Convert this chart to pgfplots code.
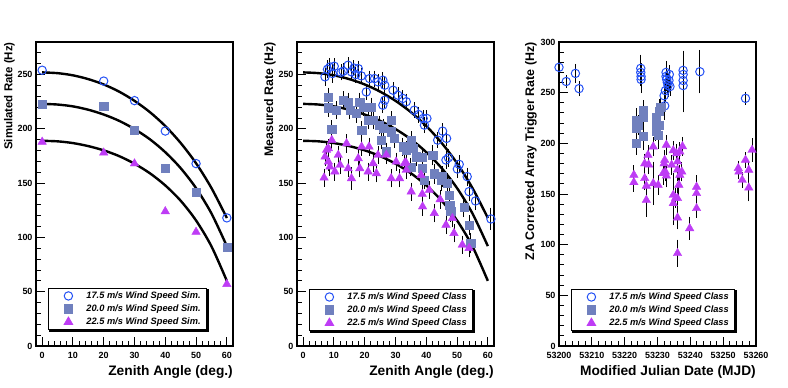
\documentclass[border=0pt]{standalone}
\usepackage{fontspec}
\setmainfont{Liberation Sans}
\usepackage{pgfplots}
\usepackage{pgfplotstable}
\pgfplotsset{compat=1.18}

\definecolor{cblue}{RGB}{35,80,245}
\definecolor{csq}{RGB}{112,128,190}
\definecolor{ctri}{RGB}{190,60,245}

% simulated rates
\pgfplotstableread{
za rate
0 254
20 244
30 226
40 198
50 168
60 118
}\simA
\pgfplotstableread{
za rate
0 223
20 221
30 199
40 164
50 142
60 91
}\simB
\pgfplotstableread{
za rate
0 188
20 178
30 168
40 124
50 105
60 57
}\simC

% fitted curves
\pgfplotstableread{
za rate
0 252
5 251.3
10 249.3
15 245.8
20 240.9
25 234.3
30 225.8
35 215.4
40 202.6
45 187.0
50 168.3
55 145.5
60 117.9
}\fitA
\pgfplotstableread{
za rate
0 223
5 222.4
10 220.7
15 217.6
20 213.2
25 207.4
30 199.8
35 190.4
40 178.5
45 163.8
50 145.4
55 122.1
60 92.0
}\fitB
\pgfplotstableread{
za rate
0 189
5 188.5
10 186.9
15 184.1
20 180.2
25 174.9
30 167.9
35 159.1
40 147.9
45 133.8
50 115.6
55 91.8
60 60.0
}\fitC

% measured rates vs zenith angle
\pgfplotstableread{
za rate err
7.1 247.9 7
7.9 254.9 7
8.7 257.0 7
10.1 257.7 6
9.5 251.0 7
12.3 252.0 6
13.0 253.0 6
14.6 258.6 6
15.7 252.5 6
16.5 256.0 6
17.1 250.0 6
17.9 255.5 6
18.9 248.8 6
20.5 234.0 6
21.6 246.3 6
23.2 246.3 6
24.3 243.3 6
25.9 244.8 6
26.5 240.2 6
26.5 226.4 6
25.9 221.8 6
29.2 235.6 6
30.8 231.0 6
32.4 228.0 6
33.5 225.0 6
36.1 217.2 6
37.5 213.2 6
39.0 209.6 6
40.2 209.6 6
39.4 203.4 6
43.7 189.6 6
45.3 197.9 6
46.6 191.2 6
46.4 171.3 7
47.2 173.4 7
50.7 167.3 7
50.1 163.0 7
53.3 156.0 7
53.9 142.2 7
56.0 133.6 7
61.0 117.0 9
}\measA
\pgfplotstableread{
za rate err
8.2 229.5 7
8.2 219.4 7
10.7 217.2 7
9.3 199.5 7
13.0 226.4 7
14.6 224.9 7
15.2 217.2 7
17.3 214.2 7
18.4 224.9 7
19.5 220.3 7
19.0 198.8 7
21.1 208.0 7
22.2 220.3 7
22.7 208.0 7
24.8 203.4 7
26.1 200.4 7
28.6 208.0 7
28.6 197.3 7
25.4 189.6 7
29.7 191.2 7
32.4 183.5 7
35.1 189.6 7
35.6 182.0 7
27.0 179.0 7
33.5 180.5 7
35.0 164.8 7
36.7 174.3 7
38.7 174.0 7
38.8 163.6 7
39.4 152.9 7
42.1 175.9 8
42.5 158.7 8
45.0 152.6 8
45.3 156.0 8
46.9 149.8 8
47.4 139.1 8
47.6 129.9 8
47.9 123.8 8
52.2 128.0 8
53.9 111.5 8
54.4 94.7 8
}\measB
\pgfplotstableread{
za rate err
9.3 189.6 7
8.2 182.0 7
14.1 186.6 7
19.0 183.5 7
21.4 183.5 7
7.6 180.5 7
7.1 174.3 7
8.2 169.7 7
6.8 155.0 7
8.7 165.1 7
10.3 160.6 7
11.4 175.9 7
12.0 166.7 7
14.6 163.6 7
15.7 154.4 9
17.9 172.8 7
18.4 163.6 7
21.1 160.6 7
22.7 168.2 7
23.8 159.0 7
24.3 175.9 7
27.0 175.9 7
28.6 154.4 7
30.2 169.7 7
31.3 154.4 7
32.9 168.2 7
33.4 169.0 7
33.5 162.1 7
35.1 142.2 7
38.3 157.5 7
38.7 140.0 7
38.8 128.4 7
41.0 143.7 7
42.6 122.3 7
44.5 135.0 7
46.4 111.5 7
48.5 117.7 7
49.0 103.9 7
51.7 93.2 7
53.9 90.1 7
}\measC

% rates vs date
\pgfplotstableread{
mjd rate err
53200.0 275 3
53202.2 261 5
53205.0 269 8
53206.1 254 6
53224.9 274 12
53224.9 270 12
53225.0 266 12
53225.0 263 12
53232.6 270 10
53232.6 266 10
53232.8 263 10
53233.0 260 10
53233.2 257 10
53232.4 252 10
53232.0 247 10
53232.2 237 12
53233.5 262 8
53233.8 256 8
53233.6 268 8
53237.8 272 18
53237.8 268 15
53237.8 262 15
53237.8 257 25
53242.9 270.7 20
53256.8 244.4 5
}\dateA
\pgfplotstableread{
mjd rate err
53223.6 223 10
53223.6 215 8
53223.6 200 10
53224.2 218 8
53225.6 233 8
53225.6 226 8
53225.6 207 12
53229.7 226 10
53229.7 220 10
53230.6 232 10
53230.6 218 10
53230.2 208 12
53231.0 236 8
53229.5 212 8
}\dateB
\pgfplotstableread{
mjd rate err
53222.8 168.8 8
53222.8 161.5 8
53226.1 180.0 8
53226.1 165.5 10
53226.6 158.0 8
53226.6 144.0 15
53227.1 188.5 8
53227.3 179.0 8
53228.7 196.7 8
53228.7 160.5 20
53230.2 158.8 8
53231.7 170.4 10
53232.2 183.5 8
53232.0 180.0 8
53232.7 198.4 8
53232.4 172.0 8
53232.7 168.0 10
53234.3 178.6 8
53234.8 193.0 8
53234.8 149.0 20
53234.8 140.8 20
53235.8 190.0 8
53236.1 182.0 8
53236.1 174.0 10
53236.1 145.8 15
53236.1 126.6 10
53236.1 91.5 12
53236.8 191.8 8
53236.8 168.8 8
53237.4 172.0 8
53237.6 197.0 8
53236.5 159.0 10
53235.5 146.0 8
53239.8 116.1 10
53241.9 157.0 10
53241.9 150.7 10
53241.9 135.9 8
53254.6 175.4 6
53254.8 172.0 6
53255.8 163.8 6
53256.8 183.6 6
53257.8 173.7 6
53257.8 156.2 12
53258.8 193.4 10
}\dateC

\pgfplotsset{
  rootpanel/.style={
    scale only axis, width=197bp, height=304bp,
    axis line style={line width=1.2bp},
    tick align=inside, xtick pos=bottom, ytick pos=left,
    major tick length=9bp, minor tick length=4.5bp,
    every tick/.style={black, line width=0.9bp},
    ymin=0, scaled x ticks=false, scaled y ticks=false,
    tick label style={font=\fontsize{9}{10}\selectfont\bfseries},
    /pgf/number format/assume math mode=true,
    /pgf/number format/1000 sep={},
    xticklabel style={yshift=-2.5bp},
    xlabel style={at={(axis description cs:1,-0.062)}, anchor=north east, inner sep=0pt,
      font=\fontsize{13.8}{15}\selectfont\bfseries},
    ylabel style={at={(axis description cs:-0.107,1)}, anchor=south east, inner sep=0pt,
      font=\fontsize{11.8}{13}\selectfont\bfseries},
    legend style={anchor=north west, draw=black, line width=0.8bp, fill=white,
      font=\fontsize{9.3}{11}\selectfont\bfseries\itshape,
      inner xsep=4bp, inner ysep=1.5bp, row sep=0.8bp},
    legend cell align=left,
    legend image code/.code={%
      \path[draw=none, fill=none] (0bp,-3bp) rectangle (32bp,3bp);
      \draw[#1] plot coordinates {(16bp,0bp)};},
  },
  zapanel/.style={rootpanel, xmin=-2, xmax=62, ymax=280,
    xtick={0,10,...,60}, minor xtick={-2,0,...,62},
    ytick={0,50,...,250}, minor ytick={0,10,...,280}},
  pcirc/.style={only marks, mark=o, mark size=4.2bp, mark options={draw=cblue, line width=1bp}},
  psq/.style={only marks, mark=square*, mark size=4.1bp, mark options={draw=csq, fill=csq}},
  ptri/.style={only marks, mark=triangle*, mark size=4.9bp, mark options={draw=ctri, fill=ctri}},
  perr/.style={error bars/.cd, y dir=both, y explicit,
    error bar style={black, line width=0.9bp},
    error mark options={black, line width=0.9bp, mark size=1.5bp}},
  fitline/.style={black, line width=2.4bp, smooth, no marks},
}
% ROOT-like legend shadow along the bottom and right edges
\newcommand\legshadow[1]{%
  \draw[line width=1.8bp, line cap=rect]
    ([xshift=2bp,yshift=-0.9bp]#1.south west) -- ([xshift=0.9bp,yshift=-0.9bp]#1.south east)
    -- ([xshift=0.9bp,yshift=-2bp]#1.north east);}

\begin{document}
\begin{tikzpicture}
\useasboundingbox (0,0) rectangle (788bp,388bp);

\begin{axis}[zapanel, at={(36bp,42bp)},
  xlabel={Zenith Angle (deg.)}, ylabel={Simulated Rate (Hz)},
  ylabel style={font=\fontsize{11.5}{13}\selectfont\bfseries},
  legend style={at={(axis description cs:0.061,0.191)}, name=legA}]
\addplot[pcirc] table[x=za, y=rate] {\simA};
\addlegendentry{17.5 m/s Wind Speed Sim.}
\addplot[psq] table[x=za, y=rate] {\simB};
\addlegendentry{20.0 m/s Wind Speed Sim.}
\addplot[ptri] table[x=za, y=rate] {\simC};
\addlegendentry{22.5 m/s Wind Speed Sim.}
\addplot[fitline, forget plot] table[x=za, y=rate] {\fitA};
\addplot[fitline, forget plot] table[x=za, y=rate] {\fitB};
\addplot[fitline, forget plot] table[x=za, y=rate] {\fitC};
\end{axis}
\legshadow{legA}

\begin{axis}[zapanel, at={(297bp,42bp)},
  xlabel={Zenith Angle (deg.)}, ylabel={Measured Rate (Hz)},
  ylabel style={font=\fontsize{12.4}{14}\selectfont\bfseries},
  legend style={at={(axis description cs:0.061,0.1875)}, name=legB}]
\addplot[pcirc, perr] table[x=za, y=rate, y error=err] {\measA};
\addlegendentry{17.5 m/s Wind Speed Class}
\addplot[psq, perr] table[x=za, y=rate, y error=err] {\measB};
\addlegendentry{20.0 m/s Wind Speed Class}
\addplot[ptri, perr] table[x=za, y=rate, y error=err] {\measC};
\addlegendentry{22.5 m/s Wind Speed Class}
\addplot[fitline, forget plot] table[x=za, y=rate] {\fitA};
\addplot[fitline, forget plot] table[x=za, y=rate] {\fitB};
\addplot[fitline, forget plot] table[x=za, y=rate] {\fitC};
\end{axis}
\legshadow{legB}

\begin{axis}[rootpanel, at={(559bp,42bp)},
  xmin=53200, xmax=53260, ymax=300,
  xtick={53200,53210,...,53260}, minor xtick={53200,53202,...,53260},
  ytick={0,50,...,300}, minor ytick={0,10,...,300},
  xlabel={Modified Julian Date (MJD)}, ylabel={ZA Corrected Array Trigger Rate (Hz)},
  ylabel style={at={(axis description cs:-0.112,1)}, font=\fontsize{12.5}{14}\selectfont\bfseries},
  legend style={at={(axis description cs:0.061,0.1875)}, name=legC}]
\addplot[pcirc, perr] table[x=mjd, y=rate, y error=err] {\dateA};
\addlegendentry{17.5 m/s Wind Speed Class}
\addplot[psq, perr] table[x=mjd, y=rate, y error=err] {\dateB};
\addlegendentry{20.0 m/s Wind Speed Class}
\addplot[ptri, perr] table[x=mjd, y=rate, y error=err] {\dateC};
\addlegendentry{22.5 m/s Wind Speed Class}
\end{axis}
\legshadow{legC}
\end{tikzpicture}
\end{document}
